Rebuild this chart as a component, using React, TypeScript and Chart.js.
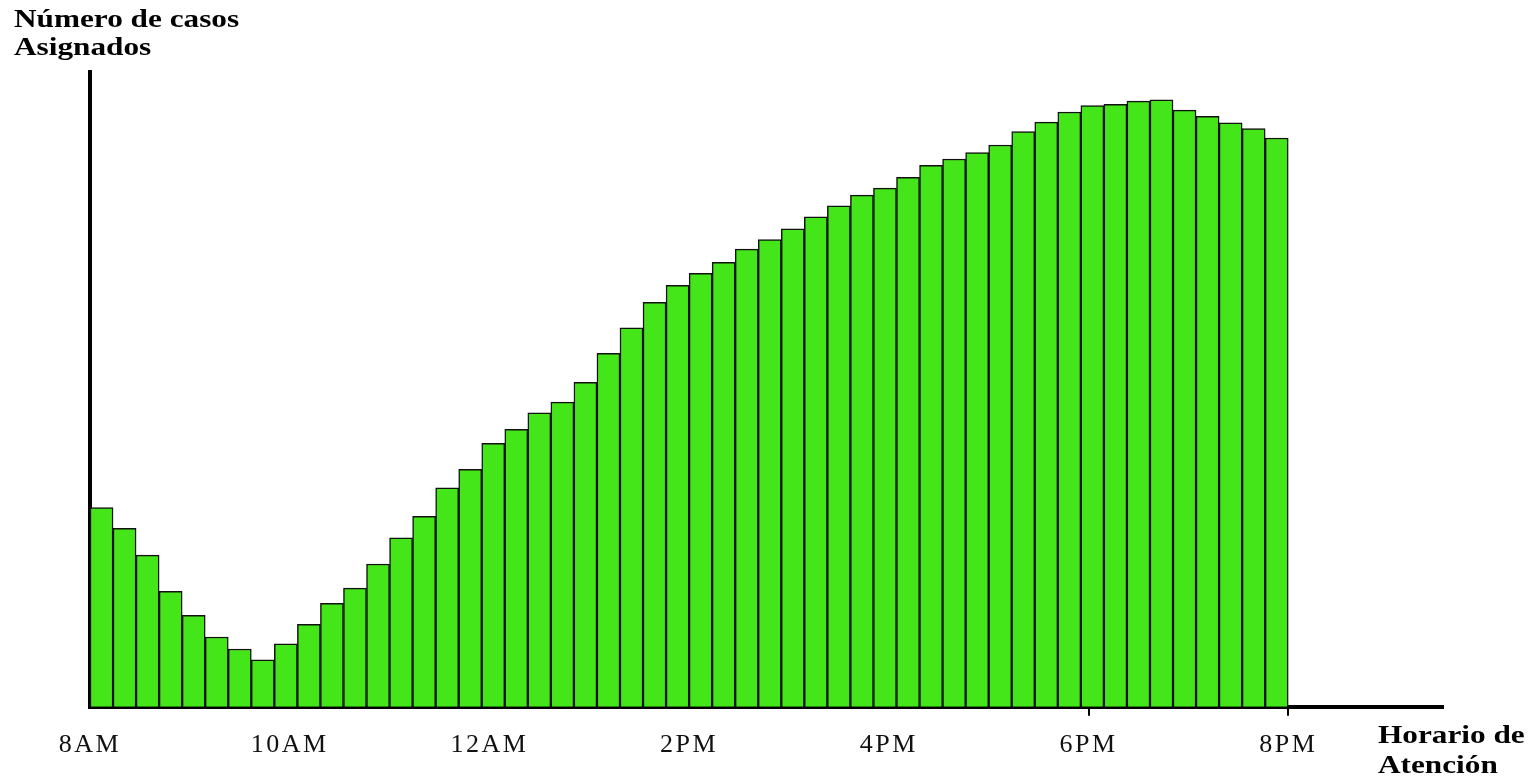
import React, { useEffect, useRef } from "react";
import { Chart, registerables } from "chart.js";

Chart.register(...registerables);

// 52 bins between 8AM and 8PM (hours after 8AM)
const casesAssigned: number[] = [
  31.4, 28.1, 23.9, 18.2, 14.4, 11.0, 9.1, 7.4, 9.9, 13.0, 16.3, 18.7, 22.5,
  26.6, 30.0, 34.5, 37.4, 41.5, 43.7, 46.3, 48.0, 51.1, 55.7, 59.7, 63.7, 66.4,
  68.3, 70.0, 72.1, 73.6, 75.3, 77.2, 78.9, 80.6, 81.7, 83.4, 85.3, 86.3, 87.3,
  88.5, 90.6, 92.1, 93.7, 94.7, 94.9, 95.4, 95.6, 94.0, 93.0, 92.0, 91.1, 89.6,
];
const spanHours = 12;
const tickHours: number[] = [0, 2, 4, 6, 8, 10, 12];
const tickLabels: string[] = ["8AM", "10AM", "12AM", "2PM", "4PM", "6PM", "8PM"];
const markedTicks: number[] = [10, 12];
const yTitle: string[] = ["Número de casos", "Asignados"];
const xTitle: string[] = ["Horario de", "Atención"];
const axisEndHours = 13.55;
const yMax = 100;

const SERIF = "'Liberation Serif', 'Times New Roman', serif";
const TICK_SPACING = "2.5px";
const TITLE_STRETCH = 1.25;

export default function App() {
  const ref = useRef<HTMLCanvasElement | null>(null);

  useEffect(() => {
    if (!ref.current) return;
    const binWidth = spanHours / casesAssigned.length;
    const points = casesAssigned.map((v, i) => ({ x: (i + 0.5) * binWidth, y: v }));

    const spacingPlugin = {
      id: "spacingPlugin",
      beforeInit(chart: any) {
        chart.ctx.letterSpacing = TICK_SPACING;
      },
      beforeUpdate(chart: any) {
        chart.ctx.letterSpacing = TICK_SPACING;
      },
      beforeDraw(chart: any) {
        chart.ctx.letterSpacing = TICK_SPACING;
      },
    };

    const drawLines = (ctx: any, lines: string[], x: number, y0: number, gap: number) => {
      lines.forEach((t, i) => {
        ctx.save();
        ctx.translate(x, y0 + i * gap);
        ctx.scale(TITLE_STRETCH, 1);
        ctx.fillText(t, 0, 0);
        ctx.restore();
      });
    };

    const axisTitlePlugin = {
      id: "axisTitlePlugin",
      afterDraw(chart: any) {
        const { ctx, chartArea } = chart;
        ctx.save();
        ctx.letterSpacing = "0px";
        ctx.fillStyle = "#000";
        ctx.font = `bold 25px ${SERIF}`;
        ctx.textAlign = "left";
        ctx.textBaseline = "alphabetic";
        drawLines(ctx, yTitle, chartArea.left - 76, chartArea.top - 45, 28);
        drawLines(ctx, xTitle, chartArea.right - 65, chartArea.bottom + 36, 30);
        ctx.restore();
      },
    };

    const chart = new Chart(ref.current, {
      type: "bar",
      data: {
        datasets: [
          {
            data: points as any,
            backgroundColor: "#45E619",
            borderColor: "#111",
            borderWidth: 1.5,
            barPercentage: 1,
            categoryPercentage: 1,
          },
        ],
      },
      options: {
        animation: false,
        responsive: false,
        layout: { padding: { left: 14, right: 90, top: 72, bottom: 5 } },
        plugins: {
          legend: { display: false },
          tooltip: { enabled: false },
          title: { display: false },
        },
        scales: {
          x: {
            type: "linear",
            min: 0,
            max: axisEndHours,
            offset: false,
            afterBuildTicks: (scale: any) => {
              scale.ticks = tickHours.map((v) => ({ value: v }));
            },
            ticks: {
              autoSkip: false,
              maxRotation: 0,
              color: "#111",
              padding: 14,
              font: { family: SERIF, size: 26 },
              callback: (value: any) => {
                const i = tickHours.indexOf(Number(value));
                return i >= 0 ? tickLabels[i] : "";
              },
            },
            grid: {
              offset: false,
              drawOnChartArea: false,
              tickLength: 9,
              lineWidth: 2,
              color: (ctx: any) =>
                ctx.tick && markedTicks.includes(ctx.tick.value) ? "#000" : "rgba(0,0,0,0)",
            },
            border: { display: true, color: "#000", width: 4 },
          },
          y: {
            type: "linear",
            min: 0,
            max: yMax,
            ticks: { display: false },
            grid: { display: false },
            border: { display: true, color: "#000", width: 4 },
            afterFit: (scale: any) => {
              scale.width = 76;
            },
          },
        },
      },
      plugins: [spacingPlugin, axisTitlePlugin],
    });
    return () => chart.destroy();
  }, []);

  return (
    <div style={{ position: "fixed", left: 0, top: 0, width: 1533, height: 780, background: "#fff" }}>
      <canvas ref={ref} width={1533} height={780} style={{ display: "block" }} />
    </div>
  );
}
